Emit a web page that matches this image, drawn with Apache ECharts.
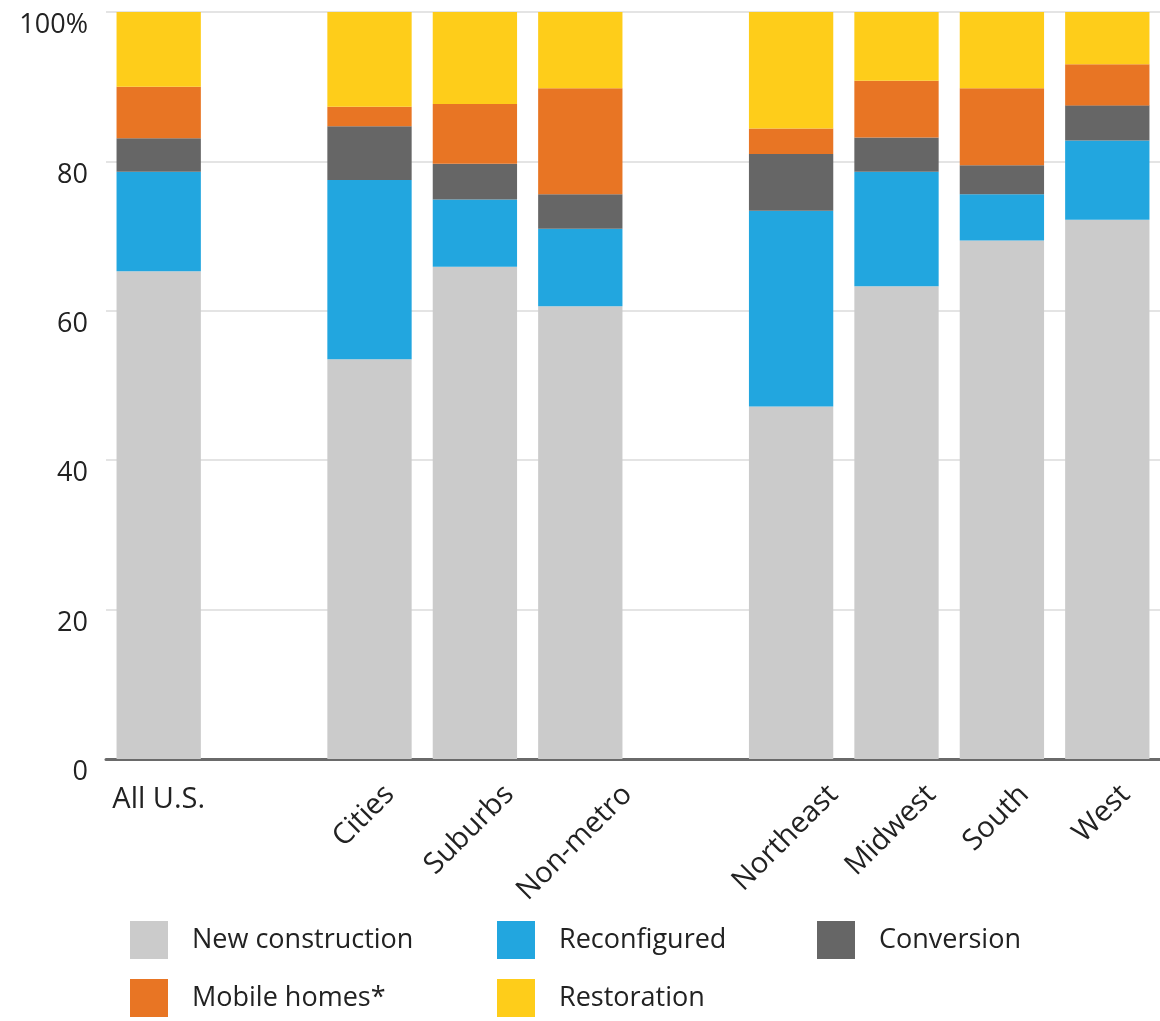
<!DOCTYPE html>
<html>
<head>
<meta charset="utf-8">
<script src="https://cdn.jsdelivr.net/npm/echarts@6/dist/echarts.min.js"></script>
<style>
  html, body { margin: 0; padding: 0; background: #fff; }
  #chart { width: 1160px; height: 1021px; }
</style>
</head>
<body>
<div id="chart"></div>
<script>
// ---- data ----
const categories = ['All U.S.', '', 'Cities', 'Suburbs', 'Non-metro', '', 'Northeast', 'Midwest', 'South', 'West'];
const newConstruction = [65.3, null, 53.5, 65.9, 60.6, null, 47.2, 63.3, 69.4, 72.2];
const reconfigured   = [13.3, null, 24.0,  9.0, 10.4, null, 26.2, 15.3,  6.2, 10.6];
const conversion     = [ 4.5, null,  7.2,  4.8,  4.6, null,  7.6,  4.6,  3.9,  4.7];
const mobileHomes    = [ 6.9, null,  2.6,  8.0, 14.2, null,  3.4,  7.6, 10.3,  5.5];
const restoration    = [10.0, null, 12.7, 12.3, 10.2, null, 15.6,  9.2, 10.2,  7.0];
const yTicks = [0, 20, 40, 60, 80, 100];

// ---- styles ----
const FONT = '"Open Sans", "Liberation Sans", sans-serif';
const TEXT = '#222222';
const colors = {
  'New construction': '#cbcbcb',
  'Reconfigured': '#22a6df',
  'Conversion': '#666666',
  'Mobile homes*': '#e87524',
  'Restoration': '#fecd1a'
};

// measure rotated label widths so each label is centred under its bar
const catFontSize = 29;
const ctx = document.createElement('canvas').getContext('2d');
ctx.font = catFontSize + 'px ' + FONT;
const rich = {};
categories.forEach((c, i) => {
  const w = c ? ctx.measureText(c).width : 0;
  const P = w * 0.5;
  rich['c' + i] = {
    fontSize: catFontSize, fontFamily: FONT, color: TEXT,
    padding: [Math.max(0, P - 8), P + 8, 0, 0]
  };
});

const chart = echarts.init(document.getElementById('chart'), null, { renderer: 'canvas' });

function mkSeries(name, data) {
  return {
    name: name, type: 'bar', stack: 'total', data: data,
    xAxisIndex: 0, yAxisIndex: 0,
    barWidth: '80%',
    itemStyle: { color: colors[name] },
    emphasis: { disabled: true }
  };
}

const legendCommon = {
  orient: 'vertical', top: 921, padding: 0, itemGap: 20,
  itemWidth: 38, itemHeight: 38, icon: 'rect',
  selectedMode: false,
  textStyle: { fontSize: 27, fontFamily: FONT, color: TEXT, padding: [0, 0, 0, 19] }
};

chart.setOption({
  animation: false,
  backgroundColor: '#ffffff',
  grid: { left: 106, top: 12, width: 1058, height: 747, containLabel: false },
  legend: [
    Object.assign({}, legendCommon, { left: 130, data: ['New construction', 'Mobile homes*'] }),
    Object.assign({}, legendCommon, { left: 497, data: ['Reconfigured', 'Restoration'] }),
    Object.assign({}, legendCommon, { left: 817, data: ['Conversion'] })
  ],
  xAxis: [
    {
      type: 'category', data: categories, position: 'bottom',
      axisLine: { show: true, lineStyle: { color: '#6a6a6a', width: 3 } },
      axisTick: { show: false },
      splitLine: { show: false },
      axisLabel: {
        interval: 0, rotate: 45, margin: 31,
        align: 'center', verticalAlign: 'middle',
        fontSize: catFontSize, fontFamily: FONT, color: TEXT,
        rich: rich,
        formatter: (v, i) => (i === 0 || !v) ? '' : '{c' + i + '|' + v + '}'
      }
    },
    {
      type: 'category', data: categories, position: 'bottom', gridIndex: 0,
      axisLine: { show: false }, axisTick: { show: false }, splitLine: { show: false },
      axisLabel: {
        interval: 0, margin: 26,
        fontSize: catFontSize, fontFamily: FONT, color: TEXT,
        formatter: (v, i) => i === 0 ? v : ''
      }
    }
  ],
  yAxis: {
    type: 'value', min: yTicks[0], max: yTicks[yTicks.length - 1], interval: 20,
    axisLine: { show: false }, axisTick: { show: false },
    splitLine: { show: true, lineStyle: { color: '#e4e4e4', width: 2 } },
    axisLabel: {
      margin: 18, fontSize: 27, fontFamily: FONT, color: TEXT,
      verticalAlign: 'top',
      formatter: v => v === 100 ? '100%' : String(v)
    }
  },
  series: [
    mkSeries('New construction', newConstruction),
    mkSeries('Reconfigured', reconfigured),
    mkSeries('Conversion', conversion),
    mkSeries('Mobile homes*', mobileHomes),
    mkSeries('Restoration', restoration)
  ]
});
</script>
</body>
</html>
